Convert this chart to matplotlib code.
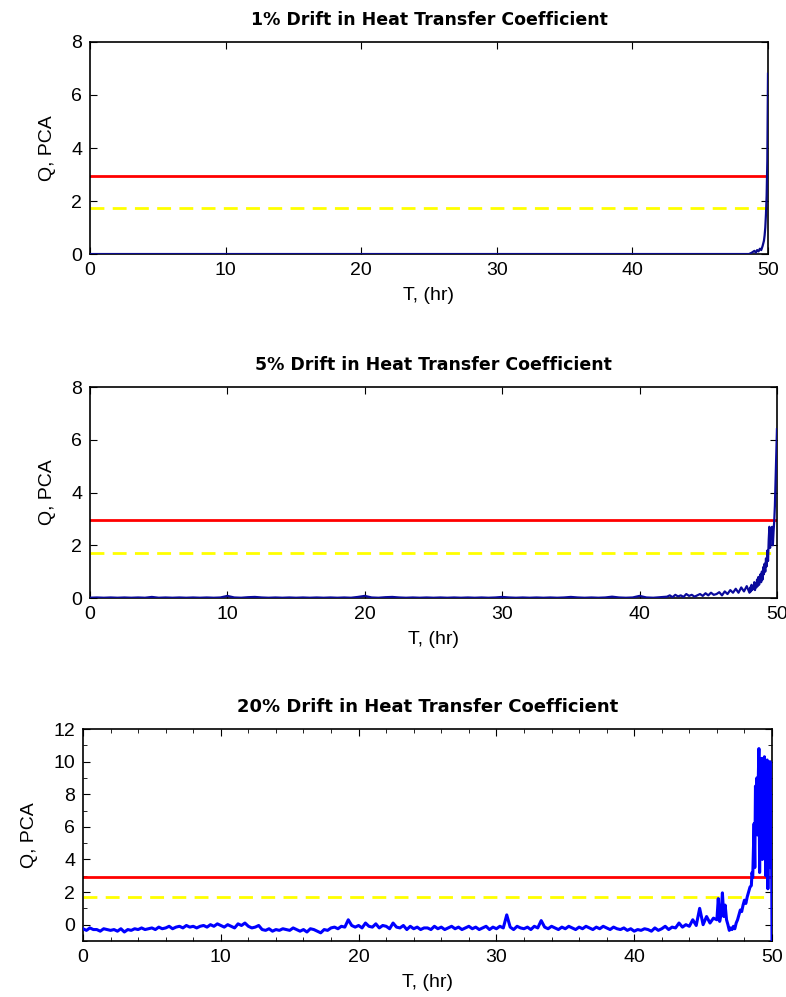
import numpy as np
import matplotlib
matplotlib.use("Agg")
import matplotlib.pyplot as plt
from matplotlib.ticker import MultipleLocator

plt.rcParams['font.family'] = ['Liberation Sans', 'DejaVu Sans']

# control limits shared by the three panels
q_limit = 2.95      # red solid line
q_warn = 1.72       # yellow dashed line

titles = ["1% Drift in Heat Transfer Coefficient",
          "5% Drift in Heat Transfer Coefficient",
          "20% Drift in Heat Transfer Coefficient"]

# ---- 1% drift ----
t1 = [0, 48.6, 48.8, 49.0, 49.1, 49.2, 49.3, 49.4, 49.5, 49.6, 49.7,
      49.75, 49.8, 49.85, 49.9, 49.95, 50.0]
q1 = [0, 0, 0.05, 0.12, 0.05, 0.15, 0.1, 0.2, 0.15, 0.3, 0.5,
      0.7, 1.0, 1.5, 2.2, 3.5, 6.8]

# ---- 5% drift (three sampling segments) ----
q2_a = [0.01, 0.02, 0.01, 0.02, 0.01, 0.02, 0.01, 0.02, 0.01, 0.04,   # 0..4.5
        0.01, 0.02, 0.01, 0.02, 0.01, 0.02, 0.01, 0.02, 0.01, 0.02,   # 5..9.5
        0.08, 0.02, 0.01, 0.03, 0.04, 0.02, 0.01, 0.02, 0.01, 0.02,   # 10..14.5
        0.01, 0.02, 0.01, 0.02, 0.01, 0.02, 0.01, 0.02, 0.01, 0.04,   # 15..19.5
        0.08, 0.02, 0.01, 0.03, 0.04, 0.02, 0.01, 0.02, 0.01, 0.02,   # 20..24.5
        0.01, 0.02, 0.01, 0.02, 0.01, 0.02, 0.01, 0.02, 0.01, 0.02,   # 25..29.5
        0.04, 0.02, 0.01, 0.02, 0.01, 0.02, 0.01, 0.02, 0.01, 0.02,   # 30..34.5
        0.04, 0.02, 0.01, 0.02, 0.01, 0.02, 0.05, 0.02, 0.01, 0.02,   # 35..39.5
        0.08, 0.02, 0.01, 0.03]                                       # 40..41.5
q2_b = [0.05, 0.1, 0.03, 0.12, 0.06, 0.1, 0.04, 0.15, 0.08, 0.12,
        0.05, 0.1, 0.15, 0.08, 0.18, 0.1, 0.2, 0.12, 0.15, 0.22,
        0.1, 0.25, 0.15, 0.3, 0.2, 0.35, 0.2, 0.4, 0.25, 0.45]        # 42..47.8
q2_c = [0.2, 0.4, 0.25, 0.5, 0.3, 0.45, 0.35, 0.6, 0.3, 0.55,
        0.4, 0.7, 0.45, 0.8, 0.5, 0.65, 0.9, 0.6, 1.0, 0.7, 1.17,     # 48..49
        0.9, 1.3, 1.0, 1.5, 1.2, 1.8, 1.4, 2.2, 2.7, 1.9,
        2.6, 2.3, 2.7, 2.0, 2.5, 2.9, 3.5, 4.5, 5.5, 6.4]             # 49.05..50

# ---- 20% drift ----
q3_a = [-0.25, -0.35, -0.2, -0.3,   -0.3, -0.4, -0.25, -0.3,
        -0.35, -0.3, -0.4, -0.25,   -0.45, -0.3, -0.35, -0.25,
        -0.3, -0.2, -0.3, -0.25,    -0.2, -0.3, -0.15, -0.25,
        -0.2, -0.1, -0.25, -0.15,   -0.1, -0.2, -0.05, -0.15,
        -0.1, -0.2, -0.1, -0.05,    -0.15, 0.0, -0.1, 0.05,
        -0.05, -0.15, 0.0, -0.1,    -0.2, 0.05, -0.05, 0.1,
        -0.1, -0.2, -0.15, -0.05,   -0.3, -0.35, -0.25, -0.4,
        -0.3, -0.35, -0.25, -0.3,   -0.35, -0.2, -0.3, -0.4,
        -0.3, -0.45, -0.25, -0.3,   -0.4, -0.5, -0.3, -0.35,
        -0.2, -0.15, -0.25, -0.1,   -0.15, 0.3, -0.05, -0.15,
        -0.05, -0.2, 0.1, -0.1,     -0.15, 0.05, -0.2, -0.05,
        -0.1, -0.25, 0.1, -0.15,    -0.2, -0.05, -0.3, -0.1,
        -0.25, -0.15, -0.3, -0.2,   -0.2, -0.3, -0.1, -0.25,
        -0.15, -0.3, -0.2, -0.1,    -0.25, -0.15, -0.3, -0.2,
        -0.1, -0.25, -0.15, -0.3,   -0.2, -0.1, -0.3, -0.15,
        -0.25, -0.1, -0.2, 0.6,     -0.15, -0.3, -0.1, -0.2,
        -0.25, -0.15, -0.3, -0.1,   -0.2, 0.25, -0.15, -0.25,
        -0.1, -0.2, -0.3, -0.15,    -0.25, -0.1, -0.2, -0.3,
        -0.15, -0.25, -0.1, -0.2,   -0.3, -0.15, -0.25, -0.1,
        -0.2, -0.3, -0.15, -0.25,   -0.3, -0.2, -0.35, -0.25,
        -0.4, -0.3, -0.35, -0.25,   -0.3, -0.4, -0.2, -0.35,
        -0.25, -0.1, -0.3, -0.15,   -0.2, 0.1, -0.15, 0.0,
        -0.1, 0.3, -0.05, 1.0,      0.0, 0.5, 0.1, 0.4]               # 0..45.75
q3_b = [0.3, 1.6, 0.2, 0.6, 1.95, 0.5, 1.2, 0.3, 0.0, -0.35,
        -0.2, -0.3, -0.1, -0.25, 0.1, 0.3, 0.6, 0.9, 0.8, 1.2,
        1.5, 1.3, 1.7, 2.0, 2.3]                                      # 46..48.4
q3_c = [2.4, 3.2, 2.9, 4.5, 6.2, 3.5, 8.5, 7.2, 9.0, 5.5,
        8.8, 10.8, 3.2, 9.6, 7.5, 10.2, 4.0, 9.8, 6.5, 10.3,
        8.2, 3.0, 9.5, 10.1, 2.2, 9.0, 6.0, 10.0, 3.5, 8.0, -1.0]     # 48.5..50

t2 = np.concatenate([np.linspace(0, 41.5, len(q2_a)),
                     np.linspace(42, 47.8, len(q2_b)),
                     np.linspace(48, 50, len(q2_c))])
q2 = np.concatenate([q2_a, q2_b, q2_c])
t3 = np.concatenate([np.linspace(0, 45.75, len(q3_a)),
                     np.linspace(46, 48.4, len(q3_b)),
                     np.linspace(48.5, 50, len(q3_c))])
q3 = np.concatenate([q3_a, q3_b, q3_c])

series = [(t1, q1, "#0a0a8c", 1.6, (0, 8)),
          (t2, q2, "#0a0a9c", 1.6, (0, 8)),
          (t3, q3, "#0000ff", 2.2, (-1, 12))]

fig = plt.figure(figsize=(7.86, 9.97), dpi=100)
rects = [[0.1145, 0.7452, 0.8626, 0.2127],
         [0.1145, 0.4002, 0.8740, 0.2116],
         [0.1056, 0.0562, 0.8766, 0.2126]]

for i, (t, q, col, lw, ylim) in enumerate(series):
    ax = fig.add_axes(rects[i])
    ax.plot(t, q, color=col, lw=lw, zorder=3)
    ax.plot([0, 50], [q_limit, q_limit], color="#ff0000", lw=2, zorder=2)
    ax.plot([0, 50], [q_warn, q_warn], color="#ffff00", lw=2,
            ls=(0, (5, 3)), zorder=2)
    ax.set_xlim(0, 50)
    ax.set_ylim(*ylim)
    ax.xaxis.set_major_locator(MultipleLocator(10))
    ax.yaxis.set_major_locator(MultipleLocator(2))
    if i == 2:
        ax.xaxis.set_minor_locator(MultipleLocator(2))
        ax.yaxis.set_minor_locator(MultipleLocator(1))
    ax.tick_params(which="both", direction="in", top=True, right=True,
                   labelsize=14, pad=5.5)
    ax.tick_params(which="major", length=5)
    ax.tick_params(which="minor", length=3)
    for s in ax.spines.values():
        s.set_linewidth(1.2)
    ax.set_title(titles[i], fontsize=12.5 if i < 2 else 13,
                 fontweight="bold", family="DejaVu Sans", pad=12)
    ax.set_xlabel("T, (hr)", fontsize=14, labelpad=6)
    ax.set_ylabel("Q, PCA", fontsize=14, labelpad=11)

fig.savefig("out.png", dpi=100)
